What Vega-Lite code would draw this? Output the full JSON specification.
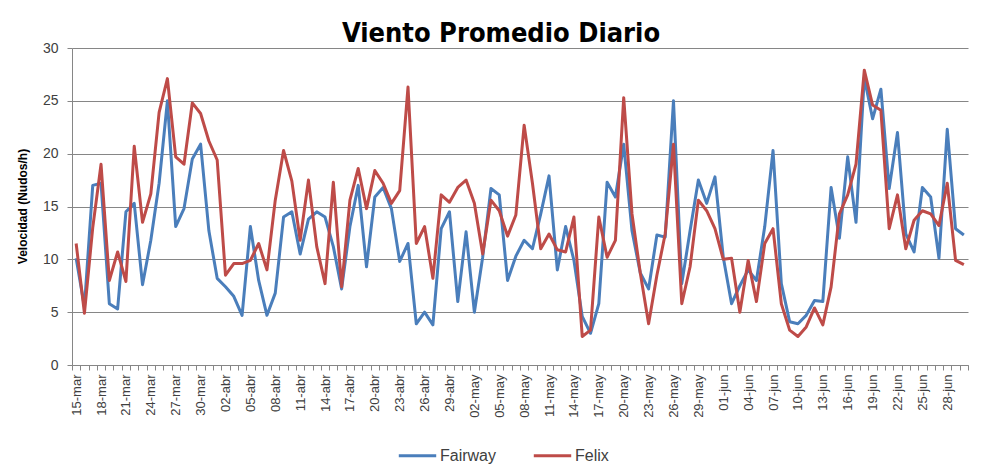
{
  "$schema": "https://vega.github.io/schema/vega-lite/v6.json",
  "width": 896,
  "height": 317,
  "autosize": {"type": "none"},
  "padding": {"left": 72, "top": 48, "right": 18, "bottom": 102},
  "background": "white",
  "config": {"view": {"stroke": null}, "font": "Liberation Sans"},
  "title": {"text": "Viento Promedio Diario", "font": "DejaVu Sans Condensed, Liberation Sans, sans-serif", "fontSize": 27, "fontWeight": "bold", "color": "#000000", "anchor": "middle", "dx": -19, "dy": 14, "offset": 7},
  "data": {"values": [
    {"d":"15-mar","s":"Fairway","v":10.1},{"d":"15-mar","s":"Felix","v":11.5},
    {"d":"16-mar","s":"Fairway","v":5.5},{"d":"16-mar","s":"Felix","v":4.9},
    {"d":"17-mar","s":"Fairway","v":17.0},{"d":"17-mar","s":"Felix","v":13.0},
    {"d":"18-mar","s":"Fairway","v":17.2},{"d":"18-mar","s":"Felix","v":19.0},
    {"d":"19-mar","s":"Fairway","v":5.8},{"d":"19-mar","s":"Felix","v":8.0},
    {"d":"20-mar","s":"Fairway","v":5.3},{"d":"20-mar","s":"Felix","v":10.7},
    {"d":"21-mar","s":"Fairway","v":14.5},{"d":"21-mar","s":"Felix","v":7.9},
    {"d":"22-mar","s":"Fairway","v":15.3},{"d":"22-mar","s":"Felix","v":20.7},
    {"d":"23-mar","s":"Fairway","v":7.6},{"d":"23-mar","s":"Felix","v":13.5},
    {"d":"24-mar","s":"Fairway","v":11.8},{"d":"24-mar","s":"Felix","v":16.2},
    {"d":"25-mar","s":"Fairway","v":17.2},{"d":"25-mar","s":"Felix","v":23.9},
    {"d":"26-mar","s":"Fairway","v":25.0},{"d":"26-mar","s":"Felix","v":27.1},
    {"d":"27-mar","s":"Fairway","v":13.1},{"d":"27-mar","s":"Felix","v":19.7},
    {"d":"28-mar","s":"Fairway","v":14.8},{"d":"28-mar","s":"Felix","v":19.0},
    {"d":"29-mar","s":"Fairway","v":19.5},{"d":"29-mar","s":"Felix","v":24.8},
    {"d":"30-mar","s":"Fairway","v":20.9},{"d":"30-mar","s":"Felix","v":23.8},
    {"d":"31-mar","s":"Fairway","v":12.7},{"d":"31-mar","s":"Felix","v":21.2},
    {"d":"01-abr","s":"Fairway","v":8.2},{"d":"01-abr","s":"Felix","v":19.4},
    {"d":"02-abr","s":"Fairway","v":7.4},{"d":"02-abr","s":"Felix","v":8.5},
    {"d":"03-abr","s":"Fairway","v":6.5},{"d":"03-abr","s":"Felix","v":9.6},
    {"d":"04-abr","s":"Fairway","v":4.7},{"d":"04-abr","s":"Felix","v":9.6},
    {"d":"05-abr","s":"Fairway","v":13.1},{"d":"05-abr","s":"Felix","v":9.9},
    {"d":"06-abr","s":"Fairway","v":8.0},{"d":"06-abr","s":"Felix","v":11.5},
    {"d":"07-abr","s":"Fairway","v":4.7},{"d":"07-abr","s":"Felix","v":9.0},
    {"d":"08-abr","s":"Fairway","v":6.8},{"d":"08-abr","s":"Felix","v":15.6},
    {"d":"09-abr","s":"Fairway","v":14.0},{"d":"09-abr","s":"Felix","v":20.3},
    {"d":"10-abr","s":"Fairway","v":14.5},{"d":"10-abr","s":"Felix","v":17.4},
    {"d":"11-abr","s":"Fairway","v":10.5},{"d":"11-abr","s":"Felix","v":11.8},
    {"d":"12-abr","s":"Fairway","v":13.8},{"d":"12-abr","s":"Felix","v":17.5},
    {"d":"13-abr","s":"Fairway","v":14.5},{"d":"13-abr","s":"Felix","v":11.2},
    {"d":"14-abr","s":"Fairway","v":14.0},{"d":"14-abr","s":"Felix","v":7.7},
    {"d":"15-abr","s":"Fairway","v":11.2},{"d":"15-abr","s":"Felix","v":17.3},
    {"d":"16-abr","s":"Fairway","v":7.2},{"d":"16-abr","s":"Felix","v":7.4},
    {"d":"17-abr","s":"Fairway","v":13.1},{"d":"17-abr","s":"Felix","v":15.6},
    {"d":"18-abr","s":"Fairway","v":17.0},{"d":"18-abr","s":"Felix","v":18.6},
    {"d":"19-abr","s":"Fairway","v":9.3},{"d":"19-abr","s":"Felix","v":14.8},
    {"d":"20-abr","s":"Fairway","v":15.9},{"d":"20-abr","s":"Felix","v":18.4},
    {"d":"21-abr","s":"Fairway","v":16.8},{"d":"21-abr","s":"Felix","v":17.2},
    {"d":"22-abr","s":"Fairway","v":14.8},{"d":"22-abr","s":"Felix","v":15.3},
    {"d":"23-abr","s":"Fairway","v":9.8},{"d":"23-abr","s":"Felix","v":16.5},
    {"d":"24-abr","s":"Fairway","v":11.5},{"d":"24-abr","s":"Felix","v":26.3},
    {"d":"25-abr","s":"Fairway","v":3.9},{"d":"25-abr","s":"Felix","v":11.5},
    {"d":"26-abr","s":"Fairway","v":5.0},{"d":"26-abr","s":"Felix","v":13.1},
    {"d":"27-abr","s":"Fairway","v":3.8},{"d":"27-abr","s":"Felix","v":8.2},
    {"d":"28-abr","s":"Fairway","v":12.9},{"d":"28-abr","s":"Felix","v":16.1},
    {"d":"29-abr","s":"Fairway","v":14.5},{"d":"29-abr","s":"Felix","v":15.4},
    {"d":"30-abr","s":"Fairway","v":6.0},{"d":"30-abr","s":"Felix","v":16.8},
    {"d":"01-may","s":"Fairway","v":12.6},{"d":"01-may","s":"Felix","v":17.5},
    {"d":"02-may","s":"Fairway","v":5.0},{"d":"02-may","s":"Felix","v":15.3},
    {"d":"03-may","s":"Fairway","v":10.2},{"d":"03-may","s":"Felix","v":10.5},
    {"d":"04-may","s":"Fairway","v":16.7},{"d":"04-may","s":"Felix","v":15.6},
    {"d":"05-may","s":"Fairway","v":16.1},{"d":"05-may","s":"Felix","v":14.6},
    {"d":"06-may","s":"Fairway","v":8.0},{"d":"06-may","s":"Felix","v":12.2},
    {"d":"07-may","s":"Fairway","v":10.3},{"d":"07-may","s":"Felix","v":14.2},
    {"d":"08-may","s":"Fairway","v":11.8},{"d":"08-may","s":"Felix","v":22.7},
    {"d":"09-may","s":"Fairway","v":11.0},{"d":"09-may","s":"Felix","v":17.2},
    {"d":"10-may","s":"Fairway","v":14.3},{"d":"10-may","s":"Felix","v":11.0},
    {"d":"11-may","s":"Fairway","v":17.9},{"d":"11-may","s":"Felix","v":12.4},
    {"d":"12-may","s":"Fairway","v":9.0},{"d":"12-may","s":"Felix","v":10.9},
    {"d":"13-may","s":"Fairway","v":13.1},{"d":"13-may","s":"Felix","v":10.7},
    {"d":"14-may","s":"Fairway","v":9.9},{"d":"14-may","s":"Felix","v":14.0},
    {"d":"15-may","s":"Fairway","v":4.6},{"d":"15-may","s":"Felix","v":2.7},
    {"d":"16-may","s":"Fairway","v":3.0},{"d":"16-may","s":"Felix","v":3.3},
    {"d":"17-may","s":"Fairway","v":5.8},{"d":"17-may","s":"Felix","v":14.0},
    {"d":"18-may","s":"Fairway","v":17.3},{"d":"18-may","s":"Felix","v":10.2},
    {"d":"19-may","s":"Fairway","v":15.9},{"d":"19-may","s":"Felix","v":11.8},
    {"d":"20-may","s":"Fairway","v":20.9},{"d":"20-may","s":"Felix","v":25.3},
    {"d":"21-may","s":"Fairway","v":12.7},{"d":"21-may","s":"Felix","v":14.3},
    {"d":"22-may","s":"Fairway","v":8.7},{"d":"22-may","s":"Felix","v":8.7},
    {"d":"23-may","s":"Fairway","v":7.2},{"d":"23-may","s":"Felix","v":3.9},
    {"d":"24-may","s":"Fairway","v":12.3},{"d":"24-may","s":"Felix","v":8.5},
    {"d":"25-may","s":"Fairway","v":12.1},{"d":"25-may","s":"Felix","v":12.4},
    {"d":"26-may","s":"Fairway","v":25.0},{"d":"26-may","s":"Felix","v":20.9},
    {"d":"27-may","s":"Fairway","v":7.7},{"d":"27-may","s":"Felix","v":5.8},
    {"d":"28-may","s":"Fairway","v":12.7},{"d":"28-may","s":"Felix","v":9.3},
    {"d":"29-may","s":"Fairway","v":17.5},{"d":"29-may","s":"Felix","v":15.6},
    {"d":"30-may","s":"Fairway","v":15.3},{"d":"30-may","s":"Felix","v":14.6},
    {"d":"31-may","s":"Fairway","v":17.8},{"d":"31-may","s":"Felix","v":12.9},
    {"d":"01-jun","s":"Fairway","v":10.2},{"d":"01-jun","s":"Felix","v":10.0},
    {"d":"02-jun","s":"Fairway","v":5.8},{"d":"02-jun","s":"Felix","v":10.1},
    {"d":"03-jun","s":"Fairway","v":7.5},{"d":"03-jun","s":"Felix","v":5.0},
    {"d":"04-jun","s":"Fairway","v":9.0},{"d":"04-jun","s":"Felix","v":9.9},
    {"d":"05-jun","s":"Fairway","v":8.0},{"d":"05-jun","s":"Felix","v":6.0},
    {"d":"06-jun","s":"Fairway","v":13.1},{"d":"06-jun","s":"Felix","v":11.5},
    {"d":"07-jun","s":"Fairway","v":20.3},{"d":"07-jun","s":"Felix","v":12.9},
    {"d":"08-jun","s":"Fairway","v":7.7},{"d":"08-jun","s":"Felix","v":5.8},
    {"d":"09-jun","s":"Fairway","v":4.1},{"d":"09-jun","s":"Felix","v":3.3},
    {"d":"10-jun","s":"Fairway","v":3.9},{"d":"10-jun","s":"Felix","v":2.7},
    {"d":"11-jun","s":"Fairway","v":4.7},{"d":"11-jun","s":"Felix","v":3.6},
    {"d":"12-jun","s":"Fairway","v":6.1},{"d":"12-jun","s":"Felix","v":5.4},
    {"d":"13-jun","s":"Fairway","v":6.0},{"d":"13-jun","s":"Felix","v":3.8},
    {"d":"14-jun","s":"Fairway","v":16.8},{"d":"14-jun","s":"Felix","v":7.4},
    {"d":"15-jun","s":"Fairway","v":12.0},{"d":"15-jun","s":"Felix","v":14.3},
    {"d":"16-jun","s":"Fairway","v":19.7},{"d":"16-jun","s":"Felix","v":16.1},
    {"d":"17-jun","s":"Fairway","v":13.5},{"d":"17-jun","s":"Felix","v":19.0},
    {"d":"18-jun","s":"Fairway","v":27.2},{"d":"18-jun","s":"Felix","v":27.9},
    {"d":"19-jun","s":"Fairway","v":23.3},{"d":"19-jun","s":"Felix","v":24.6},
    {"d":"20-jun","s":"Fairway","v":26.1},{"d":"20-jun","s":"Felix","v":24.1},
    {"d":"21-jun","s":"Fairway","v":16.7},{"d":"21-jun","s":"Felix","v":12.9},
    {"d":"22-jun","s":"Fairway","v":22.0},{"d":"22-jun","s":"Felix","v":16.1},
    {"d":"23-jun","s":"Fairway","v":12.4},{"d":"23-jun","s":"Felix","v":11.0},
    {"d":"24-jun","s":"Fairway","v":10.7},{"d":"24-jun","s":"Felix","v":13.7},
    {"d":"25-jun","s":"Fairway","v":16.8},{"d":"25-jun","s":"Felix","v":14.6},
    {"d":"26-jun","s":"Fairway","v":15.9},{"d":"26-jun","s":"Felix","v":14.3},
    {"d":"27-jun","s":"Fairway","v":10.1},{"d":"27-jun","s":"Felix","v":13.2},
    {"d":"28-jun","s":"Fairway","v":22.3},{"d":"28-jun","s":"Felix","v":17.2},
    {"d":"29-jun","s":"Fairway","v":12.9},{"d":"29-jun","s":"Felix","v":9.9},
    {"d":"30-jun","s":"Fairway","v":12.3},{"d":"30-jun","s":"Felix","v":9.5}
  ]},
  "mark": {"type": "line", "strokeWidth": 3, "strokeJoin": "round"},
  "encoding": {
    "x": {
      "field": "d", "type": "ordinal", "sort": null,
      "scale": {"type": "band", "paddingInner": 0, "paddingOuter": 0},
      "bandPosition": 0.5,
      "axis": {
        "title": null, "grid": false,
        "labelAngle": -90, "labelAlign": "right", "labelBaseline": "middle",
        "labelFontSize": 13, "labelColor": "#404040", "labelPadding": 4,
        "tickBand": "extent", "tickSize": 5, "tickColor": "#868686", "domainColor": "#868686",
        "labelExpr": "indexof(['15-mar','18-mar','21-mar','24-mar','27-mar','30-mar','02-abr','05-abr','08-abr','11-abr','14-abr','17-abr','20-abr','23-abr','26-abr','29-abr','02-may','05-may','08-may','11-may','14-may','17-may','20-may','23-may','26-may','29-may','01-jun','04-jun','07-jun','10-jun','13-jun','16-jun','19-jun','22-jun','25-jun','28-jun'], datum.value) >= 0 ? datum.value : ''"
      }
    },
    "y": {
      "field": "v", "type": "quantitative",
      "scale": {"domain": [0, 30], "nice": false},
      "axis": {
        "values": [0, 5, 10, 15, 20, 25, 30],
        "title": "Velocidad  (Nudos/h)", "titleFontSize": 12, "titleFontWeight": "bold", "titleColor": "#000000",
        "titleX": -50, "titleY": 158, "titleAngle": -90, "titleAlign": "center", "titleBaseline": "middle",
        "grid": true, "gridColor": "#868686", "gridWidth": 1,
        "domainColor": "#868686", "tickColor": "#868686", "tickSize": 5,
        "labelFontSize": 14, "labelColor": "#404040", "labelPadding": 9
      }
    },
    "color": {
      "field": "s", "type": "nominal",
      "scale": {"domain": ["Fairway", "Felix"], "range": ["#4A7EBB", "#BE4B48"]},
      "legend": {
        "title": null, "orient": "none", "legendX": 325, "legendY": 387, "direction": "horizontal",
        "symbolType": "stroke", "symbolStrokeWidth": 3, "symbolSize": 1400,
        "labelFontSize": 16, "labelColor": "#404040", "labelOffset": 2, "columnPadding": 30
      }
    }
  }
}
